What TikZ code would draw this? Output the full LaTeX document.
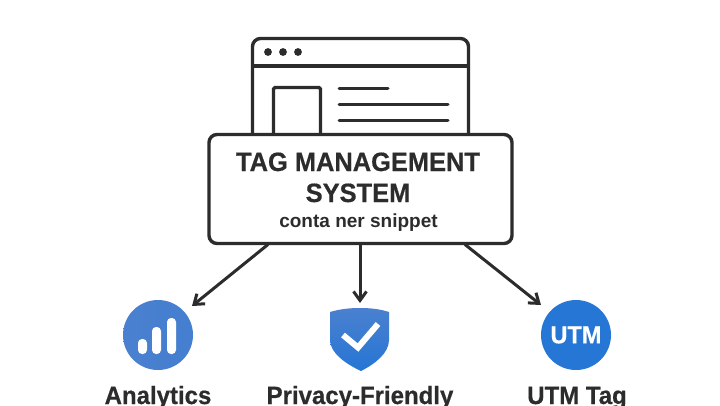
\documentclass[tikz,border=0pt]{standalone}
\usepackage{fontspec}
\setmainfont{Liberation Sans}[BoldFeatures={FakeBold=0.5,FakeStretch=0.96}]
\newfontfamily\subfont{Liberation Sans}
\usetikzlibrary{arrows.meta,calc}
\definecolor{ink}{HTML}{2C2C2C}
\definecolor{blueA}{HTML}{4A80CF}
\definecolor{blueB}{HTML}{2676D5}
\newcommand{\px}[1]{\fontsize{#1}{#1}\selectfont}
\tikzset{
  ln/.style={draw=ink,line width=3.4pt},
  thin line/.style={draw=ink,line width=3pt,line cap=round},
  conn/.style={draw=ink,line width=3pt,-{Straight Barb[length=9pt,width=13pt,line width=3pt]}},
  head/.style={text=ink,font=\bfseries\px{26.5},anchor=base,inner sep=0pt},
  sub/.style={text=ink,font=\subfont\bfseries\px{19},anchor=base,inner sep=0pt},
  lab/.style={text=ink,font=\bfseries\px{25},anchor=base,inner sep=0pt},
  bar/.style={fill=white,rounded corners=4pt},
}
\begin{document}
\begin{tikzpicture}[x=1pt,y=-1pt]
\path[use as bounding box,fill=white] (0,0) rectangle (720,405);
\clip (0,0) rectangle (720,405);
% browser window
\draw[ln,rounded corners=8pt] (252.5,145) -- (252.5,38.5) -- (468.5,38.5) -- (468.5,145);
\draw[ln] (252.5,66) -- (468.5,66);
\foreach \x in {268,283,298} \fill[ink] (\x,52) circle (3.9pt);
\draw[ln,rounded corners=1.5pt] (273.5,145) -- (273.5,87.5) -- (320.5,87.5) -- (320.5,145);
\draw[thin line] (339,88) -- (388,88);
\draw[thin line] (339,104) -- (448,104);
\draw[thin line] (339,120) -- (448,120);
% main box
\node[ln,fill=white,rounded corners=8pt,minimum width=303pt,minimum height=109pt,inner sep=0pt] (tms) at (360.5,189) {};
\node[head] (t1) at (358,171) {TAG MANAGEMENT};
\node[head] (t2) at (358,202) {SYSTEM};
\node[sub] (t3) at (358.5,227) {conta ner snippet};
% analytics
\node[circle,inner sep=0pt,minimum size=70pt,left color=blueA,right color=blueA!85!blueB] (ana) at (158,335) {};
\fill[bar] (138,339) rectangle (147,354);
\fill[bar] (152,327) rectangle (161,354);
\fill[bar] (167,318) rectangle (176,354);
\node[lab] (anal) at (158,404) {Analytics};
% shield
\shade[shading angle=145,top color=blueA,bottom color=blueB]
  (330,312) .. controls (340,309) and (350,308) .. (360,308)
  .. controls (370,308) and (380,309) .. (389,312)
  -- (389,340) .. controls (389,353) and (375,364) .. (361,371)
  .. controls (346,364) and (330,353) .. (330,340) -- cycle;
\draw[white,line width=6pt] (343,335) -- (358,347.5) -- (378,324);
\node[lab] (priv) at (360,404) {Privacy-Friendly};
% utm
\node[circle,fill=blueB,inner sep=0pt,minimum size=70pt,text=white,font=\bfseries\px{24.5}] (utm) at (576,335) {UTM};
\node[lab] (utml) at (577,404) {UTM Tag};
% connectors
\coordinate (c1s) at (268,244.5);
\coordinate (c1e) at (192,306);
\coordinate (c2s) at (360,244.5);
\coordinate (c2e) at (360,303);
\coordinate (c3s) at (465,244.5);
\coordinate (c3e) at (541,305);
\draw[conn] (c1s) -- (c1e);
\draw[conn] (c2s) -- (c2e);
\draw[conn] (c3s) -- (c3e);
\end{tikzpicture}
\end{document}
